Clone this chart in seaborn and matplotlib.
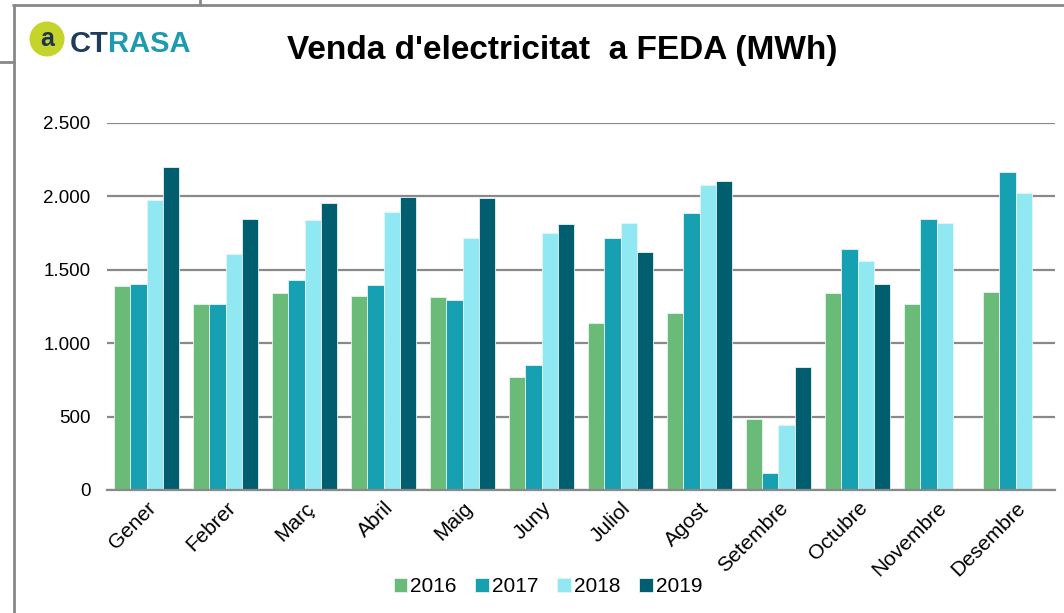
import numpy as np
import pandas as pd
import matplotlib.pyplot as plt
import seaborn as sns
from matplotlib.lines import Line2D
from matplotlib.ticker import FuncFormatter

# ---------------------------------------------------
# Data (MWh per month)
# ---------------------------------------------------
months = ["Gener", "Febrer", "Març", "Abril", "Maig", "Juny",
          "Juliol", "Agost", "Setembre", "Octubre", "Novembre", "Desembre"]
years = ["2016", "2017", "2018", "2019"]

v2016 = [1390, 1269, 1340, 1322, 1313, 770, 1135, 1206, 486, 1340, 1269, 1347]
v2017 = [1403, 1269, 1430, 1396, 1297, 854, 1719, 1890, 114, 1642, 1846, 2164]
v2018 = [1975, 1608, 1839, 1896, 1719, 1748, 1819, 2080, 445, 1558, 1819, 2023]
v2019 = [2198, 1846, 1953, 1996, 1987, 1812, 1621, 2107, 840, 1401, np.nan, np.nan]

colors = ["#6BBB78", "#16A0B1", "#90E8F2", "#005E6E"]

# long format for seaborn
df = pd.DataFrame({
    "mes": months * 4,
    "any": sum([[y] * 12 for y in years], []),
    "MWh": v2016 + v2017 + v2018 + v2019,
})

# ---------------------------------------------------
# Plot
# ---------------------------------------------------
sns.set_theme(style="white")
plt.rcParams["font.family"] = ["Liberation Sans", "DejaVu Sans"]
plt.rcParams["text.color"] = "black"

W, H = 1064, 613
fig = plt.figure(figsize=(10.64, 6.13), dpi=100)
ax = fig.add_axes([107 / W, 1 - 490 / H, (1055 - 107) / W, (490 - 123) / H])

sns.barplot(data=df, x="mes", y="MWh", hue="any", order=months, hue_order=years,
            palette=colors, saturation=1, width=0.835, gap=0,
            edgecolor="#e8f4f4", linewidth=0.6, ax=ax)

ax.set_ylim(0, 2500)
ax.set_xlim(-0.5, 11.5)
ax.set_yticks([0, 500, 1000, 1500, 2000, 2500])
ax.yaxis.set_major_formatter(FuncFormatter(lambda v, p: f"{int(v):,}".replace(",", ".")))
ax.grid(axis="y", color="#898989", linewidth=1.6)
ax.set_axisbelow(True)
for s in ["top", "right", "left"]:
    ax.spines[s].set_visible(False)
ax.spines["bottom"].set_color("#898989")
ax.spines["bottom"].set_linewidth(1.6)
ax.tick_params(axis="both", length=0, colors="black")
ax.tick_params(axis="y", labelsize=13.5, pad=12)
ax.tick_params(axis="x", labelsize=15, pad=6)
ax.set_xlabel("")
ax.set_ylabel("")
plt.setp(ax.get_xticklabels(), rotation=45, ha="right", rotation_mode="anchor")

# legend at the bottom
ax.legend(loc="center", bbox_to_anchor=(548 / W, 1 - 587 / H),
          bbox_transform=fig.transFigure, ncol=4, frameon=False,
          fontsize=15, handlelength=0.65, handleheight=0.65,
          handletextpad=0.15, columnspacing=0.9)

# title
fig.text(562 / W, 1 - 51 / H, "Venda d'electricitat  a FEDA (MWh)",
         ha="center", va="center", fontsize=24, fontweight="bold", color="black")

# logo
fig.text(47 / W, 1 - 39 / H, "a", ha="center", va="center", fontsize=18,
         fontweight="bold", color="#1F3350",
         bbox=dict(boxstyle="circle,pad=0.22", fc="#C5D42A", ec="none"))
t1 = fig.text(70 / W, 1 - 44 / H, "CT", ha="left", va="center", fontsize=21,
              fontweight="bold", color="#1F3B5A")
fig.canvas.draw()
bb = t1.get_window_extent()
fig.text(bb.x1 / W - 1 / W, 1 - 44 / H, "RASA", ha="left", va="center", fontsize=21,
         fontweight="bold", color="#1E9AB0")

# frame lines from the original slide
frame = dict(color="#888888", linewidth=2)
fig.add_artist(Line2D([13 / W, 1], [1 - 5 / H, 1 - 5 / H], **frame))
fig.add_artist(Line2D([200 / W, 200 / W], [1, 1 - 5 / H], **frame))
fig.add_artist(Line2D([14 / W, 14 / W], [1 - 5 / H, 0], **frame))
fig.add_artist(Line2D([0, 14 / W], [1 - 62 / H, 1 - 62 / H], **frame))

fig.savefig("out.png", dpi=100)
